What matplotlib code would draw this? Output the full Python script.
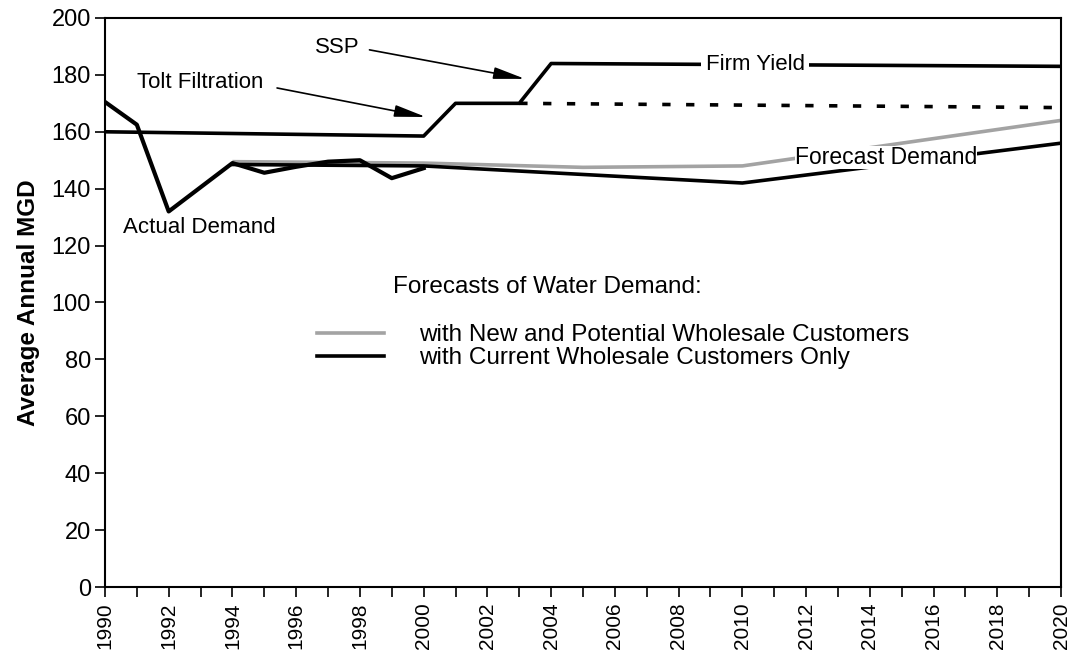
import matplotlib
matplotlib.use("Agg")
import matplotlib.pyplot as plt
from matplotlib.lines import Line2D

plt.rcParams['font.family'] = ['Liberation Sans', 'DejaVu Sans']

# ---- data ----
actual_years = [1990, 1991, 1992, 1994, 1995, 1996, 1997, 1998, 1999, 2000]
actual_demand = [170.5, 162.5, 132.0, 149.0, 145.6, 147.7, 149.5, 150.0, 143.7, 147.2]

firm_years = [1990, 2000, 2001, 2003, 2004, 2020]
firm_yield = [160.0, 158.5, 170.0, 170.0, 184.0, 183.0]

dashed_years = [2003, 2020]
dashed_yield = [170.0, 168.5]

forecast_years = [1994, 2000, 2005, 2010, 2020]
forecast_current = [148.5, 148.0, 145.0, 142.0, 156.0]
forecast_new = [149.5, 149.0, 147.5, 148.0, 164.0]

x_ticks = list(range(1990, 2021))
x_tick_labels = [str(y) if y % 2 == 0 else '' for y in x_ticks]
y_ticks = list(range(0, 201, 20))

legend_title = "Forecasts of Water Demand:"
legend_labels = ["with New and Potential Wholesale Customers",
                 "with Current Wholesale Customers Only"]

# ---- figure ----
fig = plt.figure(figsize=(10.71, 6.66), dpi=100)
ax = fig.add_axes([0.098, 0.1186, 0.8927, 0.8544])

gray = '#a3a3a3'
ax.plot(forecast_years, forecast_new, color=gray, lw=2.6, solid_capstyle='butt', zorder=2)
ax.plot(forecast_years, forecast_current, color='black', lw=2.6, zorder=3)
ax.plot(actual_years, actual_demand, color='black', lw=3.0, zorder=4)
ax.plot(firm_years, firm_yield, color='black', lw=2.6, zorder=4)
ax.plot(dashed_years, dashed_yield, color='black', lw=2.6, dashes=(2.3, 4.3), zorder=4)

ax.set_xlim(1990, 2020)
ax.set_ylim(0, 200)
ax.set_xticks(x_ticks)
ax.set_xticklabels(x_tick_labels, rotation=90, fontsize=15)
ax.set_yticks(y_ticks)
ax.tick_params(axis='y', labelsize=17, direction='out', length=7, width=1.2, pad=3)
ax.tick_params(axis='x', direction='out', length=7, width=1.2, pad=4)
for s in ax.spines.values():
    s.set_linewidth(1.5)

ax.set_ylabel("Average Annual MGD", fontsize=17.5, fontweight='bold', labelpad=8)

# annotations
afs = 16
lfs = 17.5
arrow_kw = dict(arrowstyle='-|>,head_length=1.6,head_width=0.3', color='black',
                lw=1.2, mutation_scale=12, shrinkA=0, shrinkB=0)
ax.text(1997.3, 189.5, "SSP", fontsize=afs, ha='center', va='center')
ax.annotate('', xy=(2003.18, 178.6), xytext=(1998.3, 188.8), arrowprops=arrow_kw)
ax.text(1993.0, 177.2, "Tolt Filtration", fontsize=afs, ha='center', va='center')
ax.annotate('', xy=(2000.07, 165.2), xytext=(1995.4, 175.4), arrowprops=arrow_kw)
ax.text(1992.95, 126.2, "Actual Demand", fontsize=afs, ha='center', va='center')
ax.text(2010.4, 183.5, "Firm Yield", fontsize=afs, ha='center', va='center', zorder=6,
        bbox=dict(facecolor='white', edgecolor='none', pad=3))
ax.text(2014.5, 151.1, "Forecast Demand", fontsize=16.5, ha='center', va='center', zorder=6,
        bbox=dict(facecolor='white', edgecolor='none', pad=0))

# legend
ax.text(1999.04, 105.4, legend_title, fontsize=lfs, ha='left', va='center')
handles = [Line2D([], [], color=gray, lw=2.6), Line2D([], [], color='black', lw=2.6)]
ax.legend(handles, legend_labels, loc='upper left', bbox_to_anchor=(0.222, 0.462),
          frameon=False, fontsize=lfs, handlelength=2.75, handletextpad=1.45,
          labelspacing=0.05, borderpad=0, borderaxespad=0)

fig.savefig("out.png", dpi=100)
